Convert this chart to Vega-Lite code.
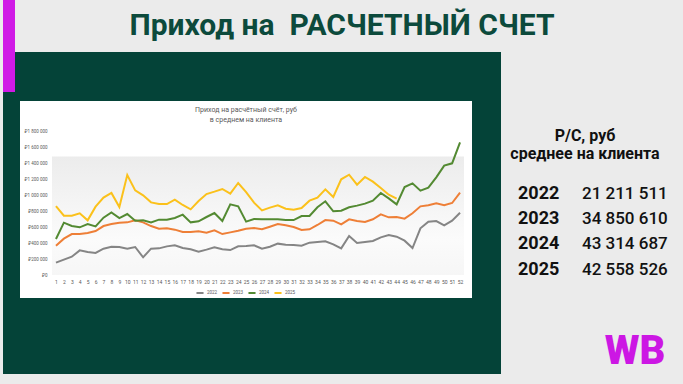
{
  "$schema": "https://vega.github.io/schema/vega-lite/v6.json",
  "width": 412,
  "height": 144,
  "autosize": {"type": "none"},
  "padding": {"left": 52, "top": 131, "right": 219, "bottom": 109},
  "background": "#ebebeb",
  "config": {"view": {"stroke": null}, "font": "Roboto"},
  "datasets": {
    "weeks": [
      {"w":1,"2022":154000,"2023":367000,"2024":450000,"2025":862000},
      {"w":2,"2022":192000,"2023":454000,"2024":654000,"2025":742000},
      {"w":3,"2022":229000,"2023":512000,"2024":612000,"2025":742000},
      {"w":4,"2022":308000,"2023":512000,"2024":596000,"2025":771000},
      {"w":5,"2022":287000,"2023":525000,"2024":637000,"2025":683000},
      {"w":6,"2022":275000,"2023":550000,"2024":608000,"2025":854000},
      {"w":7,"2022":329000,"2023":612000,"2024":717000,"2025":967000},
      {"w":8,"2022":354000,"2023":637000,"2024":783000,"2025":1025000},
      {"w":9,"2022":350000,"2023":654000,"2024":712000,"2025":850000},
      {"w":10,"2022":329000,"2023":658000,"2024":762000,"2025":1250000},
      {"w":11,"2022":350000,"2023":683000,"2024":679000,"2025":1058000},
      {"w":12,"2022":221000,"2023":658000,"2024":683000,"2025":996000},
      {"w":13,"2022":329000,"2023":612000,"2024":658000,"2025":908000},
      {"w":14,"2022":333000,"2023":579000,"2024":692000,"2025":887000},
      {"w":15,"2022":358000,"2023":583000,"2024":692000,"2025":887000},
      {"w":16,"2022":371000,"2023":567000,"2024":712000,"2025":942000},
      {"w":17,"2022":337000,"2023":537000,"2024":754000,"2025":875000},
      {"w":18,"2022":321000,"2023":537000,"2024":658000,"2025":821000},
      {"w":19,"2022":292000,"2023":546000,"2024":671000,"2025":925000},
      {"w":20,"2022":317000,"2023":529000,"2024":725000,"2025":1012000},
      {"w":21,"2022":346000,"2023":558000,"2024":775000,"2025":1042000},
      {"w":22,"2022":321000,"2023":512000,"2024":675000,"2025":1075000},
      {"w":23,"2022":312000,"2023":533000,"2024":883000,"2025":1017000},
      {"w":24,"2022":358000,"2023":554000,"2024":858000,"2025":1150000},
      {"w":25,"2022":362000,"2023":579000,"2024":667000,"2025":1037000},
      {"w":26,"2022":371000,"2023":587000,"2024":700000,"2025":904000},
      {"w":27,"2022":329000,"2023":571000,"2024":696000,"2025":808000},
      {"w":28,"2022":354000,"2023":604000,"2024":696000,"2025":842000},
      {"w":29,"2022":392000,"2023":637000,"2024":696000,"2025":871000},
      {"w":30,"2022":379000,"2023":621000,"2024":687000,"2025":829000},
      {"w":31,"2022":375000,"2023":600000,"2024":687000,"2025":817000},
      {"w":32,"2022":367000,"2023":562000,"2024":737000,"2025":837000},
      {"w":33,"2022":404000,"2023":571000,"2024":737000,"2025":929000},
      {"w":34,"2022":412000,"2023":625000,"2024":846000,"2025":967000},
      {"w":35,"2022":421000,"2023":687000,"2024":921000,"2025":1071000},
      {"w":36,"2022":383000,"2023":679000,"2024":796000,"2025":975000},
      {"w":37,"2022":333000,"2023":633000,"2024":804000,"2025":1196000},
      {"w":38,"2022":487000,"2023":696000,"2024":846000,"2025":1254000},
      {"w":39,"2022":400000,"2023":675000,"2024":867000,"2025":1129000},
      {"w":40,"2022":412000,"2023":662000,"2024":892000,"2025":1225000},
      {"w":41,"2022":425000,"2023":696000,"2024":929000,"2025":1167000},
      {"w":42,"2022":471000,"2023":758000,"2024":1025000,"2025":1087000},
      {"w":43,"2022":500000,"2023":721000,"2024":958000,"2025":1004000},
      {"w":44,"2022":479000,"2023":725000,"2024":883000,"2025":954000},
      {"w":45,"2022":429000,"2023":704000,"2024":1100000},
      {"w":46,"2022":337000,"2023":771000,"2024":1146000},
      {"w":47,"2022":583000,"2023":858000,"2024":1054000},
      {"w":48,"2022":667000,"2023":871000,"2024":1092000},
      {"w":49,"2022":675000,"2023":896000,"2024":1221000},
      {"w":50,"2022":621000,"2023":871000,"2024":1367000},
      {"w":51,"2022":679000,"2023":900000,"2024":1396000},
      {"w":52,"2022":779000,"2023":1029000,"2024":1658000}
    ],
    "stats": [
      {"year": "2022", "v": "21 211 511"},
      {"year": "2023", "v": "34 850 610"},
      {"year": "2024", "v": "43 314 687"},
      {"year": "2025", "v": "42 558 526"}
    ]
  },
  "resolve": {"scale": {"y": "independent"}},
  "layer": [
    {
      "data": {"values": [{}]},
      "mark": {"type": "rect", "color": "#044338"},
      "encoding": {"x": {"value": -49}, "x2": {"value": 449}, "y": {"value": -79}, "y2": {"value": 243}}
    },
    {
      "data": {"values": [{}]},
      "mark": {"type": "rect", "color": "#d01ae6"},
      "encoding": {"x": {"value": -49}, "x2": {"value": -37}, "y": {"value": -131}, "y2": {"value": -39}}
    },
    {
      "data": {"values": [{}]},
      "mark": {"type": "rect", "color": "#ffffff"},
      "encoding": {"x": {"value": -32}, "x2": {"value": 420}, "y": {"value": -30}, "y2": {"value": 167}}
    },
    {
      "data": {"values": [{}]},
      "mark": {
        "type": "rect",
        "color": {
          "gradient": "linear", "x1": 0, "y1": 0, "x2": 0, "y2": 1,
          "stops": [{"offset": 0, "color": "#ececec"}, {"offset": 0.7, "color": "#fbfbfb"}, {"offset": 1, "color": "#f6f6f6"}]
        }
      },
      "encoding": {
        "y": {"datum": 1480000, "type": "quantitative", "scale": {"domain": [0, 1800000], "nice": false}, "axis": null},
        "y2": {"datum": 0}
      }
    },
    {
      "data": {"name": "weeks"},
      "transform": [
        {"fold": ["2022", "2023", "2024", "2025"], "as": ["year", "value"]},
        {"filter": "datum.value != null"}
      ],
      "mark": {"type": "line", "strokeWidth": 2},
      "encoding": {
        "x": {
          "field": "w", "type": "quantitative",
          "scale": {"domain": [0.5, 52.5], "nice": false, "zero": false},
          "axis": {
            "title": null, "grid": false, "domain": false, "ticks": false, "zindex": 1,
            "values": [1,2,3,4,5,6,7,8,9,10,11,12,13,14,15,16,17,18,19,20,21,22,23,24,25,26,27,28,29,30,31,32,33,34,35,36,37,38,39,40,41,42,43,44,45,46,47,48,49,50,51,52],
            "labelFontSize": 5, "labelColor": "#595959", "labelPadding": 4, "labelFlush": false, "labelOverlap": false
          }
        },
        "y": {
          "field": "value", "type": "quantitative",
          "scale": {"domain": [0, 1800000], "nice": false},
          "axis": {
            "title": null, "grid": false, "domain": false, "ticks": false, "zindex": 1,
            "values": [0, 200000, 400000, 600000, 800000, 1000000, 1200000, 1400000, 1600000, 1800000],
            "labelExpr": "'₽' + replace(format(datum.value, ','), regexp(',', 'g'), ' ')",
            "labelFontSize": 4.5, "labelColor": "#595959", "labelPadding": 5
          }
        },
        "color": {
          "field": "year", "type": "nominal",
          "scale": {"domain": ["2022", "2023", "2024", "2025"], "range": ["#858585", "#ee7f37", "#538a32", "#fbc11b"]},
          "legend": {
            "title": null, "orient": "none", "legendX": 143, "legendY": 157, "direction": "horizontal",
            "columns": 4, "columnPadding": 0, "padding": 0, "offset": 0,
            "symbolType": "stroke", "symbolSize": 50, "symbolStrokeWidth": 2,
            "labelFontSize": 4.5, "labelColor": "#595959", "labelOffset": 2, "labelLimit": 20
          }
        }
      }
    },
    {
      "data": {"values": [{"t": "Приход на расчётный счёт, руб\nв среднем на клиента"}]},
      "mark": {"type": "text", "align": "center", "baseline": "top", "fontSize": 7, "lineHeight": 10, "lineBreak": "\n", "color": "#595959"},
      "encoding": {"text": {"field": "t"}, "x": {"value": 194}, "y": {"value": -25}}
    },
    {
      "data": {"values": [{"t": "Приход на\u00a0 РАСЧЕТНЫЙ СЧЕТ"}]},
      "mark": {"type": "text", "align": "center", "baseline": "alphabetic", "fontSize": 30, "fontWeight": "bold", "color": "#0c4a3c"},
      "encoding": {"text": {"field": "t"}, "x": {"value": 290}, "y": {"value": -96}}
    },
    {
      "data": {"values": [{"t": "Р/С, руб\nсреднее на клиента"}]},
      "mark": {"type": "text", "align": "center", "baseline": "alphabetic", "fontSize": 16, "fontWeight": "bold", "lineHeight": 18, "lineBreak": "\n", "color": "#111111"},
      "encoding": {"text": {"field": "t"}, "x": {"value": 533}, "y": {"value": 10}}
    },
    {
      "data": {"name": "stats"},
      "encoding": {
        "y": {"field": "year", "type": "ordinal", "scale": {"type": "point", "range": [67.5, 143.5], "padding": 0}, "axis": null}
      },
      "layer": [
        {
          "mark": {"type": "text", "align": "left", "baseline": "alphabetic", "fontSize": 18, "fontWeight": "bold", "color": "#111111"},
          "encoding": {"text": {"field": "year"}, "x": {"value": 466}}
        },
        {
          "mark": {"type": "text", "align": "left", "baseline": "alphabetic", "fontSize": 17, "fontWeight": 500, "color": "#111111"},
          "encoding": {"text": {"field": "v"}, "x": {"value": 530}}
        }
      ]
    },
    {
      "data": {"values": [{"t": "WB"}]},
      "mark": {"type": "text", "align": "center", "baseline": "alphabetic", "fontSize": 40, "fontWeight": 900, "color": "#cc17e4"},
      "encoding": {"text": {"field": "t"}, "x": {"value": 583}, "y": {"value": 233}}
    }
  ]
}
